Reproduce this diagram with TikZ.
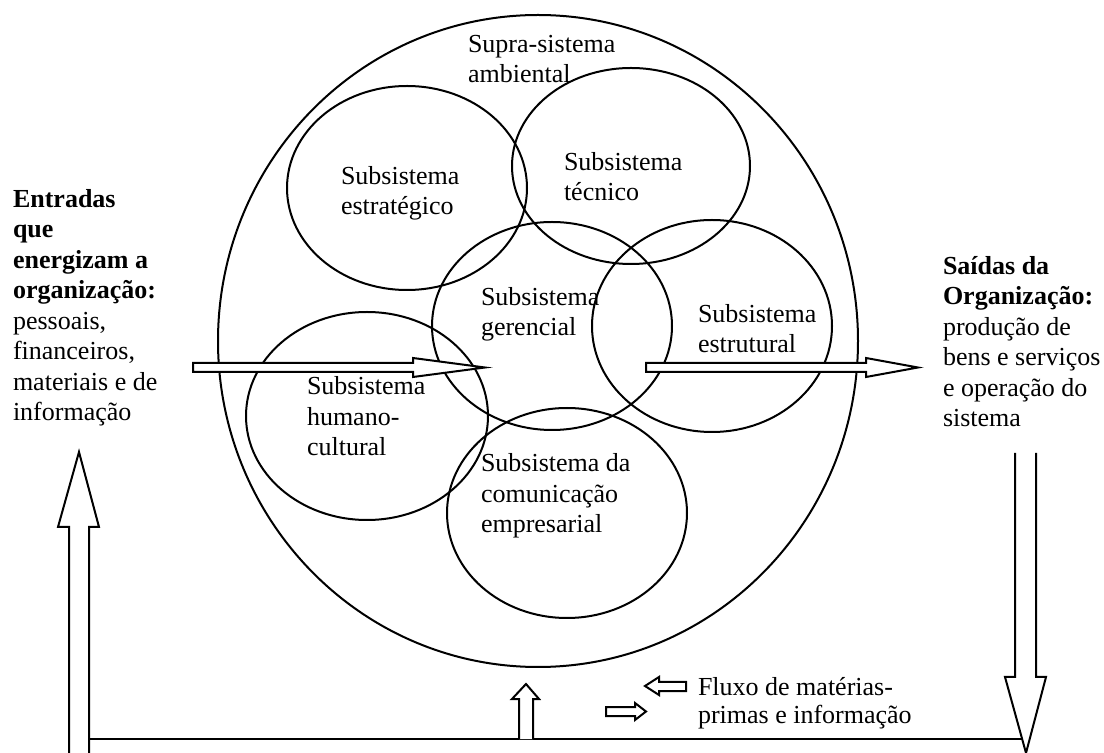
\documentclass[tikz,border=0pt]{standalone}
\usepackage{fontspec}
\setmainfont{Liberation Serif}
\begin{document}
\begin{tikzpicture}[x=0.5pt,y=-0.5pt,line width=1pt,
  lbl/.style={anchor=base west,inner sep=0pt,align=left,
    font=\fontsize{13}{15.25}\selectfont},
  ring/.style={draw,line width=1pt},
  blockarrow/.style={draw,fill=white,line width=1pt,line join=miter}]
\useasboundingbox (0,0) rectangle (1104,753);

% environment and the six subsystems
\draw[ring] (538,341) ellipse [x radius=320,y radius=326];
\draw[ring] (407,188) ellipse [x radius=120,y radius=102];
\draw[ring] (631,166) ellipse [x radius=119,y radius=98];
\draw[ring] (552,326) ellipse [x radius=120,y radius=104];
\draw[ring] (712,326) ellipse [x radius=120,y radius=106];
\draw[ring] (367,416) ellipse [x radius=121,y radius=104];
\draw[ring] (567,513) ellipse [x radius=120,y radius=105];

% labels inside the circle (placed by the baseline of their last line)
\node[lbl] (supra)   at (467,83)  {Supra-sistema\\ambiental};
\node[lbl] (estrat)  at (340,215) {Subsistema\\estratégico};
\node[lbl] (tecnico) at (563,201) {Subsistema\\técnico};
\node[lbl] (gerenc)  at (480,336) {Subsistema\\gerencial};
\node[lbl] (estrut)  at (697,353) {Subsistema\\estrutural};
\node[lbl] (humano)  at (306,456) {Subsistema\\humano-\\cultural};
\node[lbl] (comunic) at (480,533) {Subsistema da\\comunicação\\empresarial};

% inputs and outputs
\node[lbl] (entradas) at (12,421) {\textbf{Entradas}\\\textbf{que}\\\textbf{energizam a}\\\textbf{organização:}\\pessoais,\\financeiros,\\materiais e de\\informação};
\node[lbl] (saidas) at (942,427) {\textbf{Saídas da}\\\textbf{Organização:}\\produção de\\bens e serviços\\e operação do\\sistema};
\node[lbl,font=\fontsize{13}{13.5}\selectfont] (fluxo) at (697,723) {Fluxo de matérias-\\primas e informação};

% horizontal block arrows through the system
\draw[blockarrow] (193,363) -- (413,363) -- (413,358) -- (485,367.5)
  -- (413,377) -- (413,372) -- (193,372) -- cycle;
\draw[blockarrow] (646,363) -- (866,363) -- (866,358) -- (918,367.5)
  -- (866,377) -- (866,372) -- (646,372) -- cycle;

% feedback loop at the bottom
\coordinate (loopL) at (85,739);
\coordinate (loopR) at (1022,739);
\draw (loopL) -- (loopR);
\draw[blockarrow] (69,760) -- (69,527) -- (58,527) -- (79,452)
  -- (99,527) -- (89,527) -- (89,760);
\draw[blockarrow] (1015,453) -- (1015,677) -- (1005,677) -- (1026,753)
  -- (1046,677) -- (1036,677) -- (1036,453);
\draw[blockarrow] (519,739) -- (519,699) -- (512,699) -- (526,684)
  -- (539,699) -- (533,699) -- (533,739);

% small flow arrows
\draw[blockarrow] (686,682) -- (659,682) -- (659,677) -- (645,686)
  -- (659,695) -- (659,691) -- (686,691) -- cycle;
\draw[blockarrow] (606,707) -- (635,707) -- (635,703) -- (646,711.5)
  -- (635,720) -- (635,716) -- (606,716) -- cycle;
\end{tikzpicture}
\end{document}
